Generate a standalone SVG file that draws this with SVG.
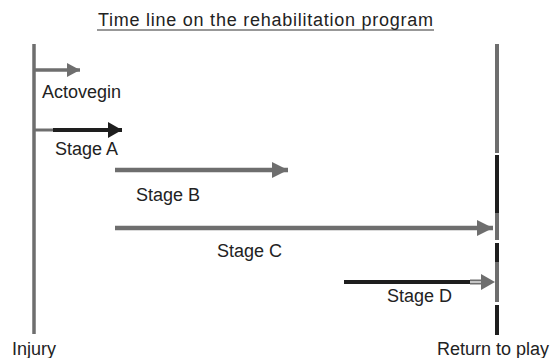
<svg xmlns="http://www.w3.org/2000/svg" width="558" height="358" viewBox="0 0 558 358">
<style>
text{font-family:"Liberation Sans",Arial,sans-serif;fill:#222;font-size:18px}
.g{stroke:#6e6e6e;fill:none}
.k{stroke:#1e1e1e;fill:none}
.gh{fill:#6e6e6e}
.kh{fill:#1e1e1e}
</style>
<defs>
<marker id="ah" markerUnits="userSpaceOnUse" markerWidth="16" markerHeight="16" refX="16" refY="8" orient="auto"><path d="M0,0 L16,8 L0,16 Z" class="gh"/></marker>
<marker id="ahs" markerUnits="userSpaceOnUse" markerWidth="14" markerHeight="14" refX="13" refY="7" orient="auto"><path d="M0,0 L13,7 L0,14 Z" class="gh"/></marker>
<marker id="ahk" markerUnits="userSpaceOnUse" markerWidth="15" markerHeight="16" refX="14" refY="8" orient="auto"><path d="M0,0 L14,8 L0,16 Z" class="kh"/></marker>
</defs>
<g id="title">
<text x="98" y="26" font-size="18.5" textLength="335" lengthAdjust="spacing">Time line on the rehabilitation program</text>
<line x1="97" y1="30" x2="434" y2="30" stroke="#333" stroke-width="1.2"/>
</g>
<g id="injury">
<line x1="34" y1="44" x2="34" y2="334" class="g" stroke-width="3.5"/>
<text x="12" y="355">Injury</text>
</g>
<g id="return">
<g stroke-width="4">
<line x1="497" y1="44" x2="497" y2="153" class="g"/>
<line x1="497" y1="155" x2="497" y2="213" class="k"/>
<line x1="497" y1="213" x2="497" y2="240" class="g"/>
<line x1="497" y1="243" x2="497" y2="262" class="k"/>
<line x1="497" y1="262" x2="497" y2="302" class="g"/>
<line x1="497" y1="305" x2="497" y2="335" class="k"/>
</g>
<text x="437" y="355">Return to play</text>
</g>
<g id="connectors">
<line x1="34" y1="70" x2="80" y2="70" class="g" stroke-width="3.5" marker-end="url(#ahs)"/>
<line x1="34" y1="130" x2="54" y2="130" class="g" stroke-width="3"/>
<line x1="53" y1="130" x2="122" y2="130" class="k" stroke-width="4" marker-end="url(#ahk)"/>
<line x1="115" y1="170" x2="288" y2="170" class="g" stroke-width="4.5" marker-end="url(#ah)"/>
<line x1="115" y1="228" x2="493" y2="228" class="g" stroke-width="4.5" marker-end="url(#ah)"/>
<line x1="344" y1="282" x2="471" y2="282" class="k" stroke-width="4"/>
<line x1="470" y1="282" x2="483" y2="282" class="g" stroke-width="5"/>
<line x1="470" y1="282" x2="482" y2="282" stroke="#fff" stroke-width="1.2"/>
<path d="M481,274 L495,282 L481,290 Z" class="gh"/>
</g>
<g id="actovegin"><text x="42" y="98" font-size="19">Actovegin</text></g>
<g id="stageA"><text x="55" y="155">Stage A</text></g>
<g id="stageB"><text x="136" y="201">Stage B</text></g>
<g id="stageC"><text x="217" y="257">Stage C</text></g>
<g id="stageD"><text x="387" y="302">Stage D</text></g>
</svg>
